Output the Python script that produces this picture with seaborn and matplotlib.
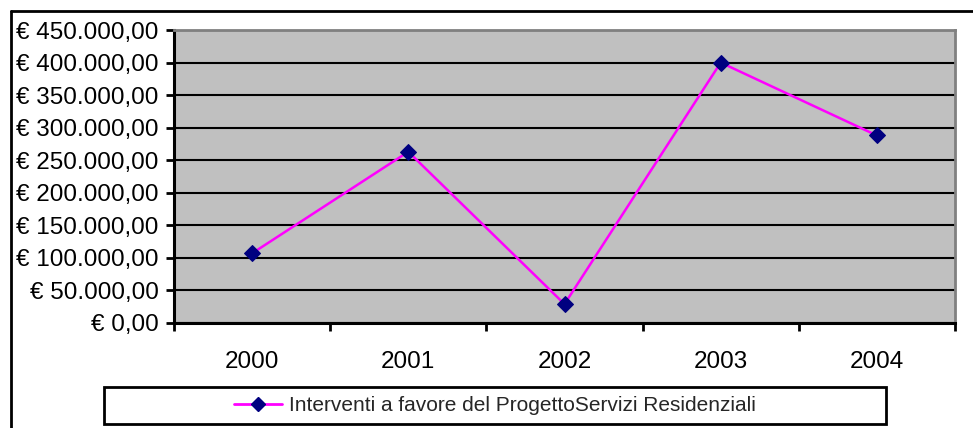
import matplotlib
matplotlib.use("Agg")
import matplotlib.pyplot as plt
import seaborn as sns
import pandas as pd
from matplotlib.ticker import FuncFormatter, FixedLocator
from matplotlib.lines import Line2D
from matplotlib.patches import Rectangle

years = ["2000", "2001", "2002", "2003", "2004"]
values = [107000, 263000, 29000, 400000, 288000]
series_name = "Interventi a favore del ProgettoServizi Residenziali"
y_ticks = [0, 50000, 100000, 150000, 200000, 250000, 300000, 350000, 400000, 450000]

sns.set_theme(style="white")
plt.rcParams['font.family'] = ['Liberation Sans', 'DejaVu Sans']

df = pd.DataFrame({"pos": range(len(years)), "value": values})

W, H = 973, 428
fig = plt.figure(figsize=(W / 100, H / 100), dpi=100)
L, R, T, B = 174, 955, 30, 323
ax = fig.add_axes([L / W, 1 - B / H, (R - L) / W, (B - T) / H])
ax.set_facecolor("#C0C0C0")

sns.lineplot(data=df, x="pos", y="value", ax=ax, color="#FF00FF", lw=1.8,
             marker="D", markersize=8, markerfacecolor="#000080",
             markeredgecolor="#000080", zorder=5)

ax.set_xlim(-0.5, len(years) - 0.5)
ax.set_ylim(0, 450000)
ax.set_yticks(y_ticks)
ax.yaxis.grid(True, color="black", lw=1.5)
ax.set_axisbelow(True)


def euro(v, _):
    s = f"{v:,.2f}".replace(",", "X").replace(".", ",").replace("X", ".")
    return "€ " + s


ax.yaxis.set_major_formatter(FuncFormatter(euro))
ax.set_xticks(range(len(years)))
ax.set_xticklabels(years)
ax.xaxis.set_minor_locator(FixedLocator([i - 0.5 for i in range(len(years) + 1)]))
ax.tick_params(axis="x", which="major", length=0, pad=20, labelsize=17.5, colors="black")
ax.tick_params(axis="x", which="minor", length=6, width=2, color="black", direction="out", bottom=True)
ax.tick_params(axis="y", length=6, width=2, color="black", direction="out", left=True,
               labelsize=17.5, labelcolor="black", pad=5)
ax.set_xlabel("")
ax.set_ylabel("")

for side in ["left", "bottom"]:
    ax.spines[side].set_color("black")
    ax.spines[side].set_linewidth(2.2)
for side in ["top", "right"]:
    ax.spines[side].set_color("#808080")
    ax.spines[side].set_linewidth(2)

# outer chart frame
fig.add_artist(Line2D([11 / W, 11 / W], [0, 1 - 11 / H], transform=fig.transFigure, color="black", lw=2))
fig.add_artist(Line2D([11 / W, 1], [1 - 11 / H, 1 - 11 / H], transform=fig.transFigure, color="black", lw=2))

# legend box
lx0, lx1, ly0, ly1 = 104, 886, 387, 424
fig.add_artist(Rectangle((lx0 / W, 1 - ly1 / H), (lx1 - lx0) / W, (ly1 - ly0) / H,
                         transform=fig.transFigure, fill=False, edgecolor="black", lw=2))
handle = Line2D([], [], color="#FF00FF", lw=2, marker="D", markersize=7,
                markerfacecolor="#000080", markeredgecolor="#000080")
fig.legend([handle], [series_name], loc="center",
           bbox_to_anchor=((lx0 + lx1) / 2 / W, 1 - (ly0 + ly1) / 2 / H),
           frameon=False, fontsize=15, handlelength=2.3, handletextpad=0.3)

fig.savefig("out.png", dpi=100)
